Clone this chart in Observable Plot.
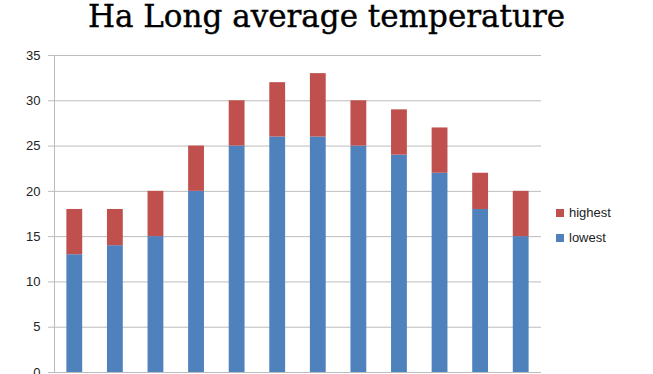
<!DOCTYPE html>
<html><head><meta charset="utf-8">
<script src="https://cdn.jsdelivr.net/npm/d3@7"></script>
<script src="https://cdn.jsdelivr.net/npm/@observablehq/plot@0.6"></script>
<style>
html,body{margin:0;padding:0;background:#fff;overflow:hidden;width:653px;height:374px}
#wrap{position:relative;width:653px;height:374px;overflow:hidden}
#title{position:absolute;left:0;top:-4px;width:653px;text-align:center;font-family:"DejaVu Serif",serif;font-size:31px;line-height:40px;color:#000;white-space:nowrap;-webkit-text-stroke:0.4px #000}
#chart{position:absolute;left:0;top:40px}
#legend{position:absolute;left:556px;top:200px;font-family:"Liberation Sans",Arial,sans-serif;font-size:13px;color:#222}
.item{display:flex;align-items:center;height:25px}
.sw{width:8px;height:8px;margin-right:5px}
</style></head>
<body><div id="wrap">
<div id="title">Ha Long average temperature</div>
<div id="chart"></div>
<div id="legend"></div>
</div>
<script>
const months = ["Jan","Feb","Mar","Apr","May","Jun","Jul","Aug","Sep","Oct","Nov","Dec"];
const lowest = [13,14,15,20,25,26,26,25,24,22,18,15];
const highest = [18,18,20,25,30,32,33,30,29,27,22,20];
const seriesNames = ["lowest","highest"];
const seriesColors = ["#4F81BD","#C0504D"];
const yTicks = [0,5,10,15,20,25,30,35];

const rows = [];
months.forEach((m,i)=>rows.push({month:m, series:"lowest", value:lowest[i]}));
months.forEach((m,i)=>rows.push({month:m, series:"highest", value:highest[i]-lowest[i]}));

const plot = Plot.plot({
  width:653, height:334,
  marginLeft:54, marginRight:112, marginTop:15, marginBottom:2,
  x:{domain:months, paddingInner:0.61, paddingOuter:0.305, round:false, axis:null},
  y:{domain:[0,35], ticks:yTicks, axis:null},
  color:{domain:seriesNames, range:seriesColors},
  style:{fontFamily:"'Liberation Sans', Arial, sans-serif", fontSize:"13px", color:"#222", background:"#fff"},
  marks:[
    Plot.gridY(yTicks,{stroke:"#bcbcbc", strokeOpacity:1}),
    Plot.axisY(yTicks,{tickSize:6, tickPadding:8, stroke:"#bcbcbc", fill:"#222", fontSize:13, label:null}),
    Plot.barY(rows, Plot.stackY({x:"month", y:"value", fill:"series", order:seriesNames})),
    Plot.frame({anchor:"left", stroke:"#bcbcbc"}),
    Plot.ruleY([0],{stroke:"#bcbcbc"})
  ]
});
document.getElementById("chart").append(plot);

const leg = document.getElementById("legend");
[["highest","#C0504D"],["lowest","#4F81BD"]].forEach(([n,c])=>{
  const d=document.createElement("div"); d.className="item";
  d.innerHTML=`<span class="sw" style="background:${c}"></span><span>${n}</span>`;
  leg.append(d);
});
</script>
</body></html>
